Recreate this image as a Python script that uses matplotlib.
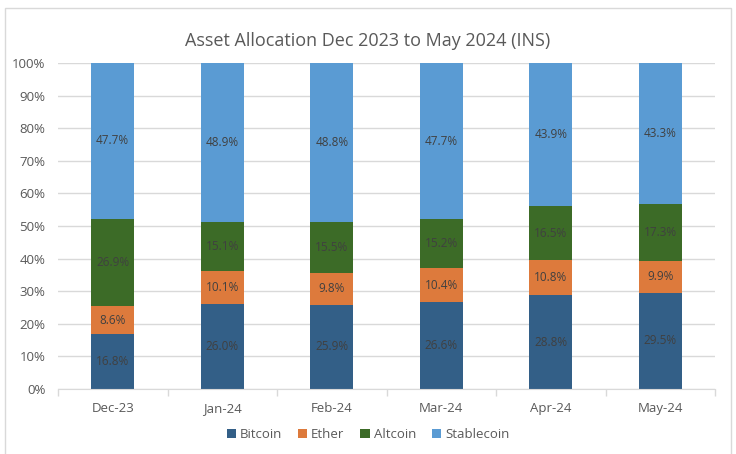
"""Stacked share chart: asset allocation Dec 2023 to May 2024 (INS)."""

import matplotlib
matplotlib.use("Agg")
import matplotlib.pyplot as plt
import numpy as np
from matplotlib.patches import Rectangle
from matplotlib.ticker import FixedLocator, PercentFormatter

months = ["Dec-23", "Jan-24", "Feb-24", "Mar-24", "Apr-24", "May-24"]
bitcoin = [16.8, 26.0, 25.9, 26.6, 28.8, 29.5]
ether = [8.6, 10.1, 9.8, 10.4, 10.8, 9.9]
altcoin = [26.9, 15.1, 15.5, 15.2, 16.5, 17.3]
stablecoin = [47.7, 48.9, 48.8, 47.7, 43.9, 43.3]

series = [
    ("Bitcoin", bitcoin, "#335F87"),
    ("Ether", ether, "#DD7A3C"),
    ("Altcoin", altcoin, "#3C6B27"),
    ("Stablecoin", stablecoin, "#5A9BD3"),
]

plt.rcParams["font.family"] = ["Open Sans", "DejaVu Sans"]
grey = "#595959"

fig = plt.figure(figsize=(7.36, 4.54), dpi=100)
ax = fig.add_axes([0.0788, 0.143, 0.8927, 0.718])

x = np.arange(len(months))
bottom = np.zeros(len(months))
for name, vals, color in series:
    vals = np.array(vals)
    ax.bar(x, vals, 0.39, bottom=bottom, color=color, label=name, zorder=2)
    for xi, b, v in zip(x, bottom, vals):
        ax.text(xi, b + v / 2, f"{v:.1f}%", ha="center", va="center",
                fontsize=8.5, color="#404040", zorder=3)
    bottom += vals

ax.set_xlim(-0.5, len(months) - 0.5)
ax.set_ylim(0, 100)
ax.set_yticks(np.arange(0, 101, 10))
ax.yaxis.set_major_formatter(PercentFormatter(decimals=0))
ax.grid(axis="y", color="#D9D9D9", linewidth=1, zorder=0)
ax.set_xticks(x)
ax.set_xticklabels(months)
ax.xaxis.set_minor_locator(FixedLocator(np.arange(-0.5, len(months), 1)))
ax.tick_params(axis="x", which="major", length=0, pad=9, labelsize=9.5, labelcolor=grey)
ax.tick_params(axis="x", which="minor", length=5, color="#D9D9D9", width=1)
ax.tick_params(axis="y", length=0, pad=9, labelsize=9.5, labelcolor=grey)
for side in ("top", "right", "left"):
    ax.spines[side].set_visible(False)
ax.spines["bottom"].set_color("#D9D9D9")

fig.suptitle("Asset Allocation Dec 2023 to May 2024 (INS)", y=0.93,
             fontsize=13, color=grey)

fig.legend(loc="center", bbox_to_anchor=(0.5, 0.042), ncol=4, frameon=False,
           fontsize=9.5, labelcolor=grey, handlelength=0.7, handleheight=0.7,
           handletextpad=0.3, columnspacing=1.2)

fig.patches.append(Rectangle((5 / 736, -0.02), 726 / 736, 1 - 8 / 454 + 0.02,
                             transform=fig.transFigure, fill=False,
                             edgecolor="#D9D9D9", linewidth=1))

fig.savefig("out.png", dpi=100)
